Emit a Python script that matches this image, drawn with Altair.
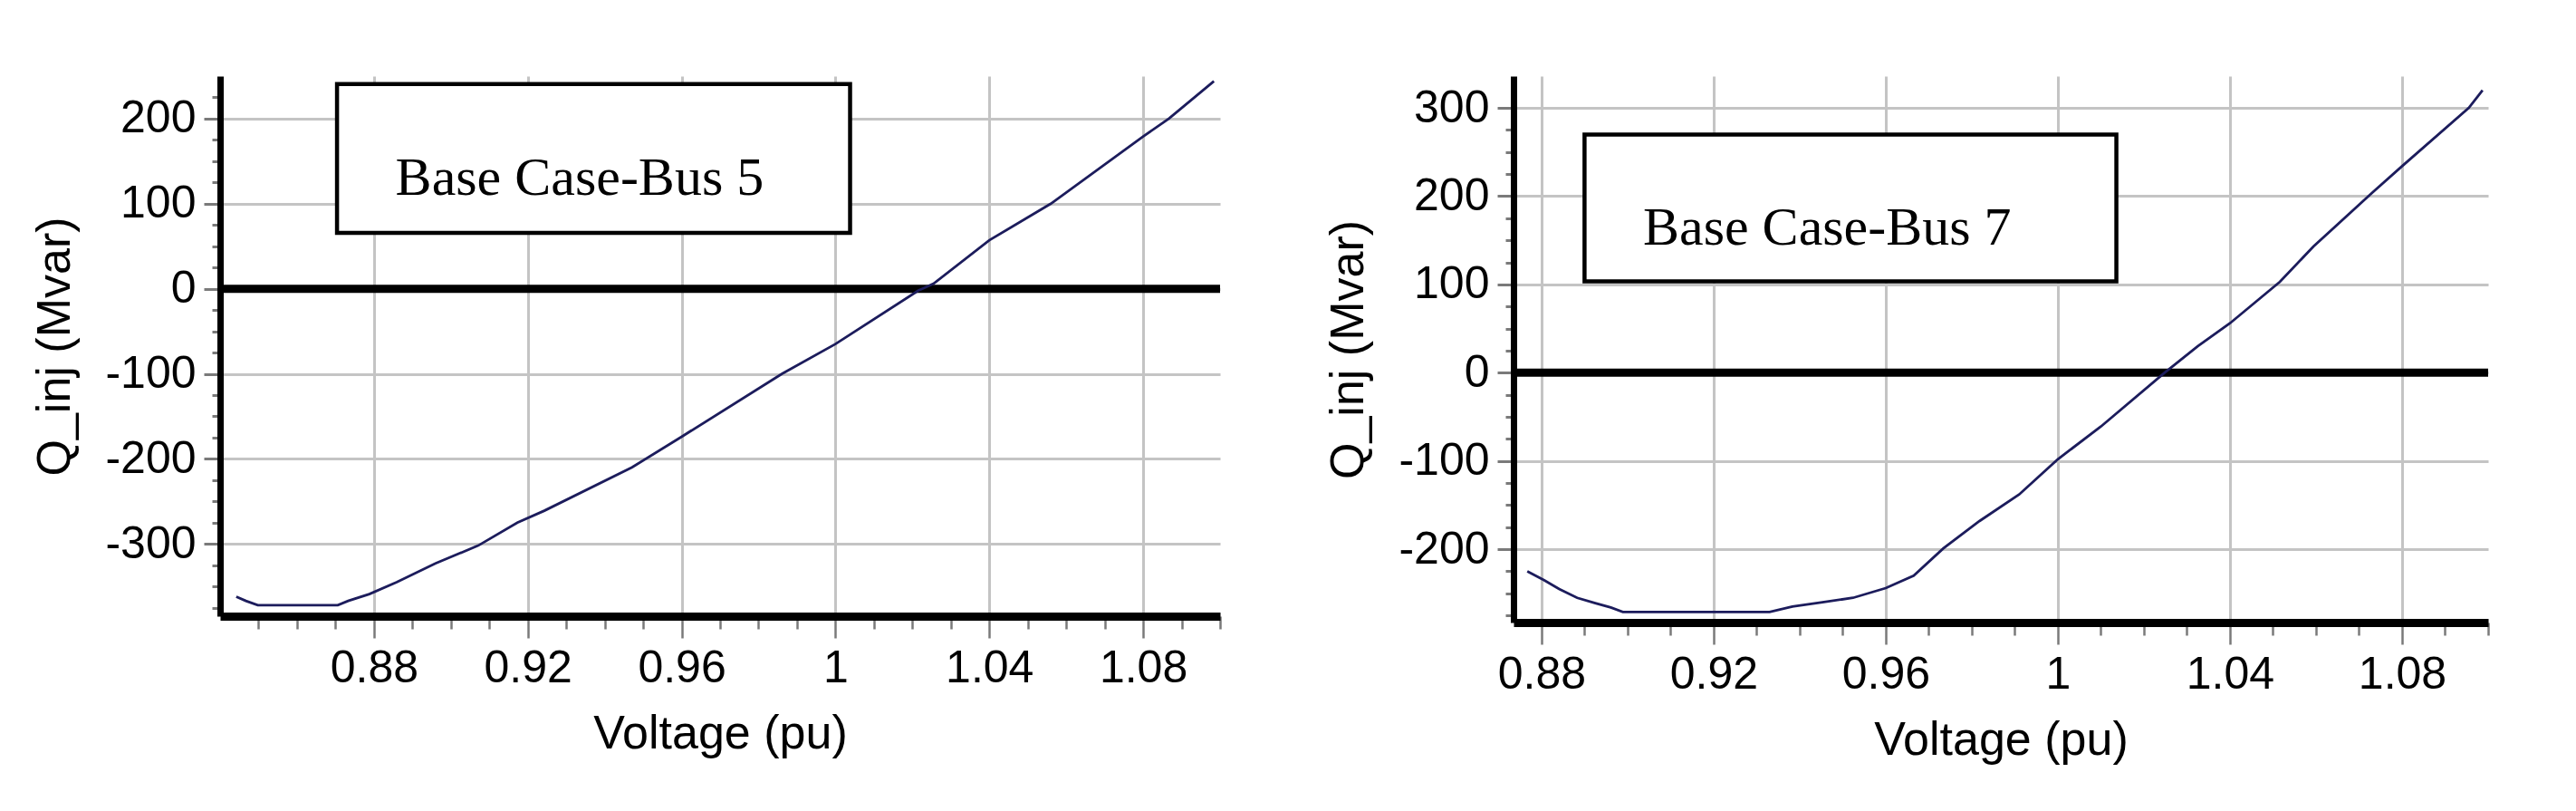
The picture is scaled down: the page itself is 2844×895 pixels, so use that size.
import altair as alt
import pandas as pd

# ---------------- data ----------------
bus5_v = [0.8442, 0.8467, 0.8498, 0.8600, 0.8706, 0.8733, 0.8788, 0.8859, 0.8960,
          0.9071, 0.9173, 0.9243, 0.9471, 0.9600, 0.9861, 1.0000, 1.0216, 1.0255,
          1.0400, 1.0560, 1.0800, 1.0867, 1.0984]
bus5_q = [-362, -367, -372, -372, -372, -367, -359, -345, -323,
          -302, -275, -261, -210, -174, -100, -65, -2, 6,
          57, 100, 179, 200, 244]

bus7_v = [0.8767, 0.8806, 0.8841, 0.8883, 0.8925, 0.8961, 0.8989, 0.9150, 0.9330,
          0.9383, 0.9453, 0.9524, 0.9600, 0.9665, 0.9734, 0.9818, 0.9910, 1.0000,
          1.0100, 1.0248, 1.0325, 1.0400, 1.0516, 1.0594, 1.0731, 1.0800, 1.0955, 1.0987]
bus7_q = [-225, -235, -245, -255, -261, -266, -271, -271, -271,
          -265, -260, -255, -244, -230, -199, -168, -138, -98,
          -61, 0, 30, 56, 103, 143, 204, 234, 300, 320]

labels = ["Base Case-Bus 5", "Base Case-Bus 7"]

# axis tick positions (minor every 0.01 / 25, labelled every 0.04 / 100)
x_ticks_5 = [round(0.85 + 0.01 * i, 2) for i in range(26)]
x_ticks_7 = [round(0.88 + 0.01 * i, 2) for i in range(23)]
y_ticks_5 = list(range(-375, 250, 25))
y_ticks_7 = list(range(-275, 325, 25))

# annotation boxes in data units: x1, x2, y1, y2, text x, text y
box_5 = dict(V=0.8704, V2=1.0038, Q=240.6, Q2=65.8, TV=0.8856, TQ=110.5)
box_7 = dict(V=0.8900, V2=1.0136, Q=269.9, Q2=103.4, TV=0.9036, TQ=145.2)

SANS = "Liberation Sans Narrow, Arial Narrow, Liberation Sans, Arial, sans-serif"
SERIF = "Liberation Serif, Times New Roman, serif"
LINE_COLOR = "#1c1c5c"

X_MAJOR = "abs(round(datum.value*100) % 4) === 0"
Y_MAJOR = "datum.value % 100 === 0"


def panel(v, q, xdom, ydom, xticks, yticks, box, label, w, h):
    df = pd.DataFrame({"V": v, "Q": q})
    xaxis = alt.Axis(
        values=xticks,
        labelExpr=f"{X_MAJOR} ? '' + round(datum.value*100)/100 : ''",
        tickSize={"condition": {"test": X_MAJOR, "value": 24}, "value": 14},
        gridOpacity={"condition": {"test": X_MAJOR, "value": 1}, "value": 0},
        grid=True,
        labelPadding=8,
        titlePadding=22,
        labelFlush=False,
        labelOverlap=False,
    )
    yaxis = alt.Axis(
        values=yticks,
        labelExpr=f"{Y_MAJOR} ? '' + datum.value : ''",
        tickSize={"condition": {"test": Y_MAJOR, "value": 18}, "value": 9},
        gridOpacity={"condition": {"test": Y_MAJOR, "value": 1}, "value": 0},
        grid=True,
        labelPadding=9,
        titlePadding=28,
        labelFlush=False,
        labelOverlap=False,
    )
    xenc = alt.X("V:Q", scale=alt.Scale(domain=xdom, nice=False, zero=False),
                 axis=xaxis, title="Voltage (pu)")
    yenc = alt.Y("Q:Q", scale=alt.Scale(domain=ydom, nice=False, zero=False),
                 axis=yaxis, title="Q_inj (Mvar)")

    zero = alt.Chart(pd.DataFrame({"Q": [0]})).mark_rule(
        color="black", strokeWidth=9
    ).encode(y=yenc)

    line = alt.Chart(df).mark_line(color=LINE_COLOR, strokeWidth=2.8).encode(
        x=xenc, y=yenc, order="V:Q"
    )

    bdf = pd.DataFrame([{"V": box["V"], "V2": box["V2"], "Q": box["Q"], "Q2": box["Q2"]}])
    rect = alt.Chart(bdf).mark_rect(
        fill="white", stroke="black", strokeWidth=4.5
    ).encode(x=xenc, x2="V2:Q", y=yenc, y2="Q2:Q")

    tdf = pd.DataFrame([{"V": box["TV"], "Q": box["TQ"], "label": label}])
    text = alt.Chart(tdf).mark_text(
        align="left", baseline="alphabetic", font=SERIF, fontSize=60, color="black"
    ).encode(x=xenc, y=yenc, text="label:N")

    return alt.layer(zero, line, rect, text).properties(width=w, height=h)


left = panel(bus5_v, bus5_q, [0.84, 1.10], [-385, 250], x_ticks_5, y_ticks_5,
             box_5, labels[0], 1104, 596)
right = panel(bus7_v, bus7_q, [0.8735, 1.10], [-283, 336], x_ticks_7, y_ticks_7,
              box_7, labels[1], 1076, 603)

chart = (
    alt.hconcat(left, right, spacing=110)
    .properties(padding={"left": 26, "top": 74, "right": 5, "bottom": 5})
    .configure_view(stroke=None)
    .configure_axis(
        domainColor="black",
        tickColor="#7a7a7a",
        labelFont=SANS,
        labelFontSize=50,
        labelColor="black",
        titleFont=SANS,
        titleFontSize=52,
        titleFontWeight="normal",
        titleColor="black",
        gridColor="#c4c4c4",
        gridWidth=3,
    )
    .configure_axisX(domainWidth=9, tickWidth=2.5)
    .configure_axisY(domainWidth=7, tickWidth=3)
)

chart.save("out.html", embed_options={"renderer": "svg", "actions": False})
